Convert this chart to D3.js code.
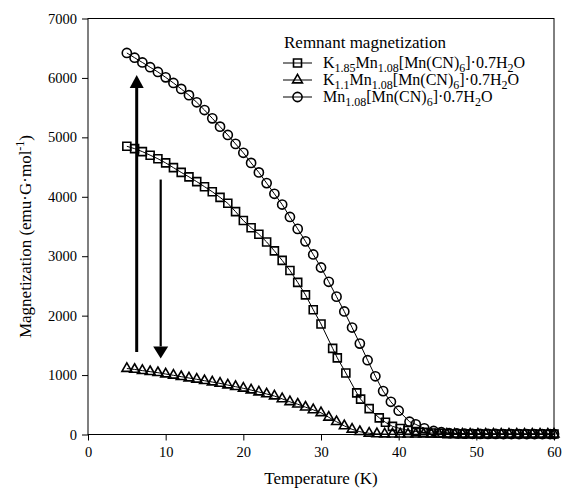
<!DOCTYPE html>
<html>
<head>
<meta charset="utf-8">
<script src="https://cdn.jsdelivr.net/npm/d3@7"></script>
<style>
  body { margin: 0; background: #fff; }
</style>
</head>
<body>
<div class="chart"></div>
<script>
// K1.85Mn1.08[Mn(CN)6]·0.7H2O  (squares)
const tempK185 = [5,6,7,8,9,10,11,12,13,14,15,16,17,18,19,20,21,22,23,24,25,26,27,28,29,30,
  31.5,32.1,33.2,34.6,35.1,36.2,37.5,38.3,39.2,40.2,41.2,42.2,43.2,44.2,45.2,46.2,47.2,48.2,
  49.2,50.2,51.2,52.2,53.2,54.2,55.2,56.2,57.2,58.2,59.2,60]
const magK185 = [4850,4810,4760,4700,4640,4570,4490,4410,4335,4255,4170,4085,3990,3890,3750,3600,
  3480,3370,3240,3090,2930,2760,2560,2350,2100,1860,1450,1290,1035,700,595,435,280,205,137,100,
  70,50,35,25,20,15,12,10,10,10,8,8,8,8,8,8,8,8,8,8]

// K1.1Mn1.08[Mn(CN)6]·0.7H2O  (triangles)
const tempK11 = [5,6,7,8,9,10,11,12,13,14,15,16,17,18,19,20,21,22,23,24,25,26,27,28,29,30,31,32,
  33,34,35,36.2,37.2,38.2,39.2,40.2,41.2,42.2,43.2,44.2,45.2,46.2,47.2,48.2,49.2,50.2,51.2,52.2,
  53.2,54.2,55.2,56.2,57.2,58.2,59.2,60]
const magK11 = [1110,1095,1075,1057,1040,1018,996,973,951,929,905,883,860,832,805,777,748,715,682,
  647,600,550,510,460,415,365,290,215,145,88,47,20,10,8,6,6,5,5,5,5,5,5,5,5,5,5,5,5,5,5,5,5,5,5,5,5]

// Mn1.08[Mn(CN)6]·0.7H2O  (circles)
const tempMn = [5,6,7,8,9,10,11,12,13,14,15,16,17,18,19,20,21,22,23,24,25,26,27,28,29,30,31,32,
  33,34,35,36,37,38,39,40,41.4,42.2,43.3,44.5,45.5,46.5,47.5,48.5,49.5,50.5,51.5,52.5,53.5,54.5,
  55.5,56.5,57.5,58.5,59.5,60]
const magMn = [6420,6340,6260,6180,6100,6010,5915,5815,5710,5590,5460,5320,5180,5040,4890,4740,
  4570,4410,4230,4050,3870,3660,3460,3250,3030,2810,2570,2320,2070,1800,1530,1250,980,730,550,400,
  215,170,104,60,38,25,18,14,12,10,10,10,8,8,8,8,8,8,8,8]

const xTicks = [0,10,20,30,40,50,60]
const yTicks = [0,1000,2000,3000,4000,5000,6000,7000]

// arrows: [temperature, from, to]
const arrowUp = [6.27, 1390, 6050]
const arrowDown = [9.36, 4290, 1280]

const FONT = "'Liberation Serif', 'Times New Roman', Times, serif"

const W = 563, H = 493
const margin = {top: 18.5, right: 9, bottom: 58.5, left: 88}
const w = W - margin.left - margin.right
const h = H - margin.top - margin.bottom

const x = d3.scaleLinear().domain([0, 60]).range([0, w])
const y = d3.scaleLinear().domain([0, 7000]).range([h, 0])

const svg = d3.select(".chart").append("svg")
    .attr("width", W)
    .attr("height", H)
    .style("font-family", FONT)

const g = svg.append("g")
    .attr("transform", "translate(" + margin.left + "," + margin.top + ")")

// frame
g.append("rect")
    .attr("width", w).attr("height", h)
    .attr("fill", "none").attr("stroke", "#000").attr("stroke-width", 1)

const xAxis = g.append("g")
    .attr("transform", "translate(0," + h + ")")
    .call(d3.axisBottom(x).tickValues(xTicks).tickSize(6).tickPadding(6).tickFormat(d3.format("d")))
const yAxis = g.append("g")
    .call(d3.axisLeft(y).tickValues(yTicks).tickSize(6).tickPadding(5).tickFormat(d3.format("d")))
for (const ax of [xAxis, yAxis]) {
  ax.attr("font-family", null).attr("font-size", null)
  ax.select(".domain").remove()
  ax.selectAll("line").attr("stroke", "#000")
  ax.selectAll("text")
      .style("font-family", FONT)
      .style("font-size", "14.5px")
      .attr("fill", "#000")
}

// titles
svg.append("text")
    .attr("x", margin.left + w / 2).attr("y", 484)
    .attr("text-anchor", "middle")
    .style("font-family", FONT).style("font-size", "17px")
    .text("Temperature (K)")

const yt = svg.append("text")
    .attr("transform", "translate(31," + (margin.top + h / 2 + 10) + ") rotate(-90)")
    .attr("text-anchor", "middle")
    .style("font-family", FONT).style("font-size", "17px")
yt.append("tspan").text("Magnetization (emu·G·mol")
yt.append("tspan").attr("dy", -7).style("font-size", "12px").text("-1")
yt.append("tspan").attr("dy", 7).text(")")

// series
const series = [
  {name: "K185", T: tempK185, M: magK185, sym: d3.symbolSquare, size: 64},
  {name: "K11",  T: tempK11,  M: magK11,  sym: d3.symbolTriangle, size: 42},
  {name: "Mn",   T: tempMn,   M: magMn,   sym: d3.symbolCircle, size: 66}
]

const line = d3.line().x(d => x(d[0])).y(d => y(d[1]))

series.forEach(s => {
  const pts = s.T.map((t, i) => [t, s.M[i]])
  g.append("path")
      .datum(pts)
      .attr("d", line)
      .attr("fill", "none").attr("stroke", "#000").attr("stroke-width", 1)
  g.selectAll(".pt-" + s.name)
    .data(pts)
    .enter()
    .append("path")
      .attr("class", "pt-" + s.name)
      .attr("transform", d => "translate(" + x(d[0]) + "," + y(d[1]) + ")")
      .attr("d", d3.symbol().type(s.sym).size(s.size))
      .attr("fill", "none").attr("stroke", "#000").attr("stroke-width", 1.6)
})

// arrows
function arrow (a, shaft, headW, headL) {
  const x0 = x(a[0]), y0 = y(a[1]), y1 = y(a[2])
  const dir = y1 < y0 ? 1 : -1
  g.append("line")
      .attr("x1", x0).attr("y1", y0)
      .attr("x2", x0).attr("y2", y1 + dir * headL)
      .attr("stroke", "#000").attr("stroke-width", shaft)
  g.append("path")
      .attr("d", "M" + x0 + "," + y1 +
        "L" + (x0 - headW / 2) + "," + (y1 + dir * headL) +
        "L" + (x0 + headW / 2) + "," + (y1 + dir * headL) + "Z")
      .attr("fill", "#000")
}
arrow(arrowUp, 3, 14, 13)
arrow(arrowDown, 2.2, 15, 12)

// legend
const legend = svg.append("g").attr("transform", "translate(283,0)")
legend.append("text")
    .attr("x", 1).attr("y", 48)
    .style("font-family", FONT).style("font-size", "17px")
    .text("Remnant magnetization")

const legendRows = [
  {sym: d3.symbolSquare, size: 64, parts: [["K",0],["1.85",1],["Mn",0],["1.08",1],["[Mn(CN)",0],["6",1],["]·0.7H",0],["2",1],["O",0]]},
  {sym: d3.symbolTriangle, size: 42, parts: [["K",0],["1.1",1],["Mn",0],["1.08",1],["[Mn(CN)",0],["6",1],["]·0.7H",0],["2",1],["O",0]]},
  {sym: d3.symbolCircle, size: 66, parts: [["Mn",0],["1.08",1],["[Mn(CN)",0],["6",1],["]·0.7H",0],["2",1],["O",0]]}
]

legendRows.forEach((r, i) => {
  const cy = 63 + i * 17
  legend.append("line")
      .attr("x1", 0).attr("x2", 29).attr("y1", cy).attr("y2", cy)
      .attr("stroke", "#000").attr("stroke-width", 1)
  legend.append("path")
      .attr("transform", "translate(14.5," + cy + ")")
      .attr("d", d3.symbol().type(r.sym).size(r.size))
      .attr("fill", "none").attr("stroke", "#000").attr("stroke-width", 1.6)
  const t = legend.append("text")
      .attr("x", 40).attr("y", cy + 5)
      .style("font-family", FONT).style("font-size", "16px")
  let prevSub = 0
  r.parts.forEach(p => {
    const dy = p[1] === prevSub ? 0 : (p[1] ? 3.5 : -3.5)
    t.append("tspan")
        .attr("dy", dy)
        .style("font-size", p[1] ? "12px" : "16px")
        .text(p[0])
    prevSub = p[1]
  })
})
</script>
</body>
</html>
